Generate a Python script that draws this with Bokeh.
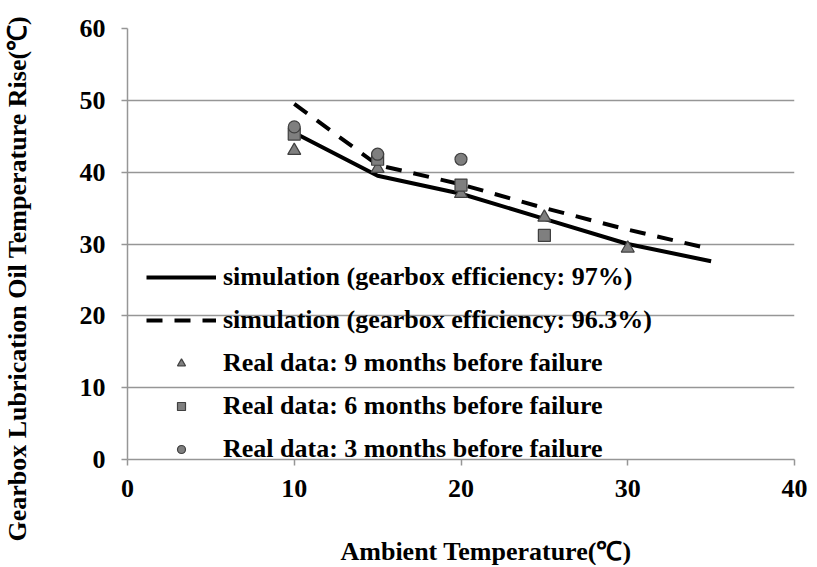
from bokeh.plotting import figure
from bokeh.models import Range1d, Legend, LegendItem, FixedTicker, Title
from bokeh.embed import file_html
from bokeh.resources import INLINE

# Data
sim_x = [10, 15, 20, 25, 30, 35]
sim_97 = [45.5, 39.5, 37.0, 33.5, 30.0, 27.6]
sim_963 = [49.5, 41.0, 38.3, 35.0, 32.0, 29.3]

m9_x = [10, 15, 20, 25, 30]
m9_y = [43.0, 40.5, 37.0, 33.7, 29.4]
m6_x = [10, 15, 20, 25]
m6_y = [45.3, 41.8, 38.2, 31.2]
m3_x = [10, 15, 20]
m3_y = [46.3, 42.5, 41.8]

labels = [
    "simulation (gearbox efficiency: 97%)",
    "simulation (gearbox efficiency: 96.3%)",
    "Real data: 9 months before failure",
    "Real data: 6 months before failure",
    "Real data: 3 months before failure",
]
x_title = "Ambient Temperature(℃)"
y_title = "Gearbox Lubrication Oil Temperature Rise(℃)"

FONT = "Liberation Serif"

p = figure(width=810, height=565, output_backend="svg", toolbar_location=None,
           x_range=Range1d(0, 40), y_range=Range1d(0, 60),
           min_border_left=126, min_border_right=16, min_border_top=28, min_border_bottom=106)
p.outline_line_color = None
p.xgrid.grid_line_color = None
p.ygrid.grid_line_color = "#969696"
p.ygrid.grid_line_width = 1.5
p.xaxis.ticker = FixedTicker(ticks=[0, 10, 20, 30, 40])
p.yaxis.ticker = FixedTicker(ticks=[0, 10, 20, 30, 40, 50, 60])

for ax in (p.xaxis[0], p.yaxis[0]):
    ax.axis_line_color = "#969696"
    ax.axis_line_width = 1.5
    ax.major_tick_line_color = "#969696"
    ax.major_tick_line_width = 1.5
    ax.major_tick_out = 6
    ax.major_tick_in = 0
    ax.minor_tick_line_color = None
    ax.major_label_text_font = FONT
    ax.major_label_text_font_style = "bold"
    ax.major_label_text_font_size = "26px"
    ax.major_label_text_color = "black"
    # blank axis label used only as spacing
    ax.axis_label = " "
    ax.axis_label_text_font_size = "1px"

p.xaxis.major_label_standoff = 14
p.yaxis.major_label_standoff = 16
p.xaxis.axis_label_standoff = 31
p.yaxis.axis_label_standoff = 41

# Axis titles as side titles (offset along the axis as in the reference)
p.add_layout(Title(text=x_title, align="left", offset=213, standoff=0,
                   text_font=FONT, text_font_style="bold", text_font_size="26px",
                   text_color="black"), "below")
p.add_layout(Title(text=y_title, align="left", offset=-82, standoff=0,
                   text_font=FONT, text_font_style="bold", text_font_size="26px",
                   text_color="black"), "left")

r1 = p.line(sim_x, sim_97, line_color="black", line_width=4)
r2 = p.line(sim_x, sim_963, line_color="black", line_width=4, line_dash="16 12")
r3 = p.scatter(m9_x, m9_y, marker="triangle", size=13, fill_color="#7f7f7f",
               line_color="#404040", line_width=1.2)
r4 = p.scatter(m6_x, m6_y, marker="square", size=12, fill_color="#7f7f7f",
               line_color="#404040", line_width=1.2)
r5 = p.scatter(m3_x, m3_y, marker="circle", size=12, fill_color="#7f7f7f",
               line_color="#404040", line_width=1.2)

legend = Legend(items=[LegendItem(label=l, renderers=[r]) for l, r in
                       zip(labels, [r1, r2, r3, r4, r5])],
                location=(19, -5))
legend.background_fill_alpha = 0
legend.border_line_color = None
legend.padding = 0
legend.margin = 0
legend.glyph_width = 70
legend.glyph_height = 20
legend.label_height = 20
legend.spacing = 13
legend.label_standoff = 7
legend.label_text_font = FONT
legend.label_text_font_style = "bold"
legend.label_text_font_size = "26px"
legend.label_text_color = "black"
p.add_layout(legend)

open("out.html", "w").write(file_html(p, INLINE))
